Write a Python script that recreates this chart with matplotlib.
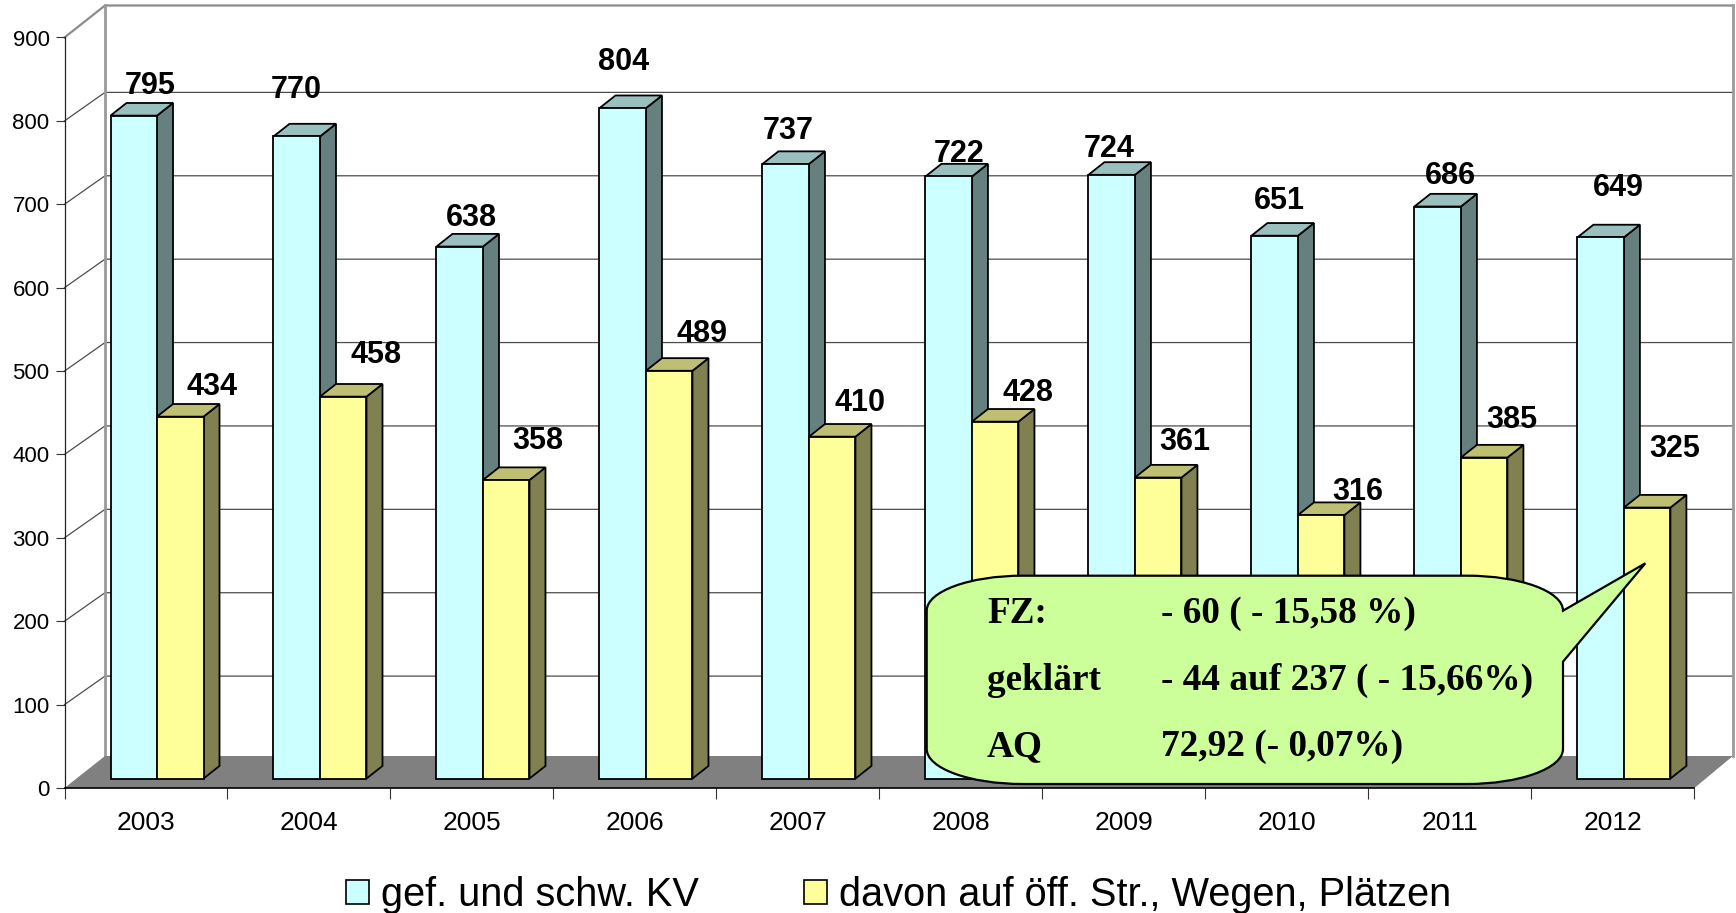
import matplotlib
matplotlib.use("Agg")
import matplotlib.pyplot as plt
from matplotlib.patches import Patch, PathPatch
from matplotlib.path import Path
from matplotlib.transforms import Affine2D

# ---- data ----
years = ["2003", "2004", "2005", "2006", "2007", "2008", "2009", "2010", "2011", "2012"]
series_a = [795, 770, 638, 804, 737, 722, 724, 651, 686, 649]
series_b = [434, 458, 358, 489, 410, 428, 361, 316, 385, 325]
name_a = "gef. und schw. KV"
name_b = "davon auf öff. Str., Wegen, Plätzen"
y_ticks = [0, 100, 200, 300, 400, 500, 600, 700, 800, 900]
note_labels = ["FZ:", "geklärt", "AQ"]
note_values = ["- 60 ( - 15,58 %)", "- 44 auf 237 ( - 15,66%)", "72,92 (- 0,07%)"]

# ---- label placement (pixels from the bar's top centre) ----
off_a = [(16, 30), (0, 46), (12, 29), (0.5, 46), (2.5, 33), (10, 22), (-2.5, 26), (5, 35), (12.5, 31), (18, 49)]
off_b = [(32, 30), (33, 42), (32, 39), (33, 37), (28, 34), (33, 29), (27, 35.5), (37, 23), (28, 38), (28, 59)]

W, H = 1736, 913
X0, X1, Y0, Y900 = 64.5, 1694.4, 788.0, 37.5
fig = plt.figure(figsize=(W / 100, H / 100), dpi=100, facecolor="white")
plt.rcParams["font.family"] = ["Liberation Sans", "DejaVu Sans"]
ax = fig.add_axes([X0 / W, 1 - Y0 / H, (X1 - X0) / W, (Y0 - Y900) / H])
ax.set_xlim(0, 10)
ax.set_ylim(0, 900)
ax.patch.set_visible(False)

px_x = (X1 - X0) / 10        # pixels per category
px_y = (Y0 - Y900) / 900     # pixels per value unit
DX, DY = 40.5 / px_x, 32.0 / px_y
GRID_DY = 28.5 / px_y
XR = 10 + 38.5 / px_x        # right edge of the back wall
D0, D1 = 0.295, 0.69         # bar depth range
BW = 46.5 / px_x
G0 = 46.0 / px_x             # left edge of group

px = Affine2D().scale(1 / W, -1 / H).translate(0, 1) + fig.transFigure

# ---- walls and floor ----
for v in y_ticks[1:-1]:
    ax.plot([0, DX, XR], [v, v + GRID_DY, v + GRID_DY], color="#4d4d4d", lw=0.9, clip_on=False, zorder=1)
ax.plot([0, DX, XR], [900, 900 + DY, 900 + DY], color="#8c8c8c", lw=1.6, clip_on=False, zorder=1)
ax.plot([DX, DX], [DY, 900 + DY], color="#9a9a9a", lw=2.0, clip_on=False, zorder=1)
ax.plot([XR, XR], [DY, 900 + DY], color="#9a9a9a", lw=2.0, clip_on=False, zorder=1)
ax.fill([0, DX, XR, 10], [0, DY, DY, 0], color="#808080", lw=0, clip_on=False, zorder=1.5)

# ---- 3-D bars ----
def box(left, v, c_front, c_side, c_top, z):
    right = left + BW
    base = D0 * DY
    top = base + v
    ddx, ddy = (D1 - D0) * DX, (D1 - D0) * DY
    kw = dict(edgecolor="black", lw=1.3, clip_on=False, zorder=z, joinstyle="miter")
    ax.fill([right, right + ddx, right + ddx, right], [base, base + ddy, top + ddy, top], facecolor=c_side, **kw)
    ax.fill([left, left + ddx, right + ddx, right], [top, top + ddy, top + ddy, top], facecolor=c_top, **kw)
    ax.bar(left, v, width=BW, bottom=base, align="edge", color=c_front, edgecolor="black",
           linewidth=1.3, clip_on=False, zorder=z + 0.1)
    return (left + right) / 2, top

for i in range(len(years)):
    cx, top = box(i + G0, series_a[i], "#CCFFFF", "#668080", "#99BFBF", 3)
    ax.annotate(str(series_a[i]), (cx, top), xytext=off_a[i], textcoords="offset pixels", ha="center",
                va="center", fontsize=22, fontweight="bold", zorder=6, annotation_clip=False)
    cx, top = box(i + G0 + BW, series_b[i], "#FFFF99", "#808050", "#BFBF73", 4)
    ax.annotate(str(series_b[i]), (cx, top), xytext=off_b[i], textcoords="offset pixels", ha="center",
                va="center", fontsize=22, fontweight="bold", zorder=6, annotation_clip=False)

# ---- axes ----
for s in ("top", "right"):
    ax.spines[s].set_visible(False)
ax.spines["left"].set_linewidth(0.9)
ax.spines["left"].set_color("#222222")
ax.spines["left"].set_zorder(2)
ax.spines["bottom"].set_color("black")
ax.spines["bottom"].set_linewidth(1.2)
ax.spines["bottom"].set_zorder(2)
ax.set_yticks(y_ticks)
ax.set_xticks(range(11))
ax.set_xticklabels([])
ax.set_xticks([i + 0.5 for i in range(10)], years, minor=True)
ax.tick_params(axis="y", length=6.8, width=0.8, pad=4.0, labelsize=16, color="#333333")
ax.tick_params(axis="x", which="major", length=8, width=0.8, color="#333333")
ax.tick_params(axis="x", which="minor", length=0, pad=16.5, labelsize=19)

# ---- callout ----
L, R, T, B = 926.7, 1563.0, 575.7, 784.0
rx, ry = 96.0, 35.0
k = 0.5523
tip = (1645.3, 563.3)
verts = [
    (L + rx, T), (R - rx, T),
    (R - rx + k * rx, T), (R, T + ry - k * ry), (R, T + ry),
    tip, (R, 661.7), (R, B - ry),
    (R, B - ry + k * ry), (R - rx + k * rx, B), (R - rx, B),
    (L + rx, B),
    (L + rx - k * rx, B), (L, B - ry + k * ry), (L, B - ry),
    (L, T + ry),
    (L, T + ry - k * ry), (L + rx - k * rx, T), (L + rx, T),
    (L + rx, T),
]
codes = [Path.MOVETO, Path.LINETO,
         Path.CURVE4, Path.CURVE4, Path.CURVE4,
         Path.LINETO, Path.LINETO, Path.LINETO,
         Path.CURVE4, Path.CURVE4, Path.CURVE4,
         Path.LINETO,
         Path.CURVE4, Path.CURVE4, Path.CURVE4,
         Path.LINETO,
         Path.CURVE4, Path.CURVE4, Path.CURVE4,
         Path.CLOSEPOLY]
fig.add_artist(PathPatch(Path(verts, codes), transform=px, facecolor="#CCFF99", edgecolor="black",
                         lw=1.6, zorder=7))
serif = dict(family="Liberation Serif", fontweight="bold", fontsize=26.8, transform=px, va="baseline", zorder=8)
for lab, val, base in zip(note_labels, note_values, (622.7, 690.0, 755.7)):
    fig.text(987, base, lab, ha="left", **serif)
    fig.text(1160.6, base, val, ha="left", **serif)

# ---- legend ----
handles = [Patch(facecolor="#CCFFFF", edgecolor="black", lw=1.2, label=name_a),
           Patch(facecolor="#FFFF99", edgecolor="black", lw=1.2, label=name_b)]
ax.legend(handles=handles, loc="lower left", bbox_to_anchor=(346, 914), bbox_transform=px, ncol=2,
          frameon=False, fontsize=28.6, handlelength=0.58, handleheight=0.58, handletextpad=0.3,
          columnspacing=2.65, borderaxespad=0, borderpad=0)

fig.savefig("out.png", dpi=100)
